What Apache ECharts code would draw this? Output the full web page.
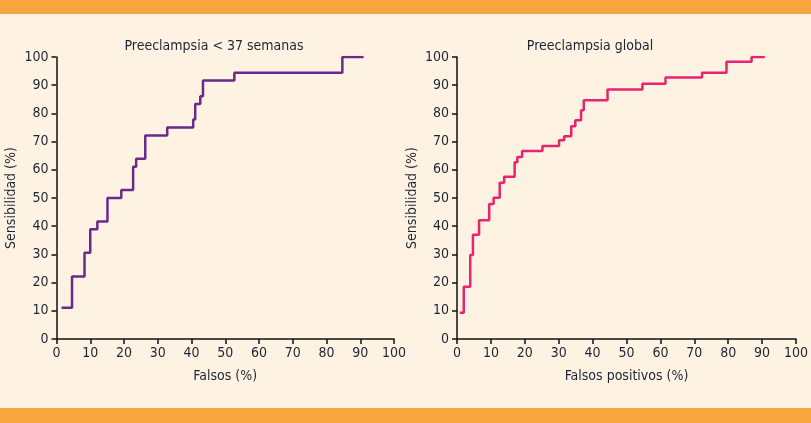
<!DOCTYPE html>
<html><head><meta charset="utf-8">
<script src="https://cdn.jsdelivr.net/npm/echarts@6/dist/echarts.min.js"></script>
<style>html,body{margin:0;padding:0;background:#FEF3E3}#c{width:811px;height:423px}</style>
</head><body><div id="c"></div>
<script>
const titleLeft = 'Preeclampsia < 37 semanas';
const titleRight = 'Preeclampsia global';
const yName = 'Sensibilidad (%)';
const xNameLeft = 'Falsos (%)';
const xNameRight = 'Falsos positivos (%)';
const fprLeft = [1.5, 4.6, 8.3, 10.0, 12.1, 15.1, 19.2, 22.7, 23.6, 26.3, 32.8, 40.5, 41.1, 42.6, 43.4, 52.7, 84.7, 91.0];
const tprLeft = [11.1, 22.2, 30.6, 38.9, 41.7, 50.0, 52.8, 61.1, 63.9, 72.2, 75.0, 77.8, 83.3, 86.1, 91.7, 94.4, 100, 100];
const fprRight = [0.8, 2.0, 3.9, 4.7, 6.5, 9.5, 10.8, 12.6, 13.9, 17.0, 17.8, 19.2, 25.2, 30.1, 31.6, 33.7, 34.9, 36.6, 37.4, 44.4, 54.7, 61.5, 72.3, 79.5, 86.9, 90.8];
const tprRight = [9.3, 18.5, 29.8, 37.0, 42.1, 47.9, 50.1, 55.4, 57.5, 62.7, 64.5, 66.7, 68.4, 70.5, 71.9, 75.4, 77.6, 81.1, 84.7, 88.5, 90.5, 92.7, 94.4, 98.3, 100, 100];

const FONT = "'Liberation Sans Narrow', 'DejaVu Sans Condensed', 'Noto Sans', sans-serif";
const TXT = '#1e2433';
const chart = echarts.init(document.getElementById('c'), null, {renderer: 'canvas'});
function xAx(idx, name) {
  return {
    type: 'value', gridIndex: idx, min: 0, max: 100, interval: 10,
    name: name, nameLocation: 'middle', nameGap: 30,
    nameTextStyle: {color: TXT, fontSize: 14, fontFamily: FONT},
    axisLine: {show: true, lineStyle: {color: '#111', width: 1.5}},
    axisTick: {show: true, inside: false, length: 5, lineStyle: {color: '#111', width: 1.5}},
    axisLabel: {color: TXT, fontSize: 14, fontFamily: FONT, margin: 7},
    splitLine: {show: false}
  };
}
function yAx(idx) {
  return {
    type: 'value', gridIndex: idx, min: 0, max: 100, interval: 10,
    name: yName, nameLocation: 'middle', nameGap: 38, nameRotate: 90,
    nameTextStyle: {color: TXT, fontSize: 14, fontFamily: FONT},
    axisLine: {show: true, lineStyle: {color: '#111', width: 1.5}},
    axisTick: {show: true, inside: false, length: 5, lineStyle: {color: '#111', width: 1.5}},
    axisLabel: {color: TXT, fontSize: 14, fontFamily: FONT, margin: 8},
    splitLine: {show: false}
  };
}
chart.setOption({
  backgroundColor: '#FEF3E3',
  animation: false,
  title: [
    {text: titleLeft, left: 209, top: 34, textAlign: 'center', textStyle: {color: TXT, fontSize: 14, fontWeight: 'normal', fontFamily: FONT}},
    {text: titleRight, left: 585, top: 34, textAlign: 'center', textStyle: {color: TXT, fontSize: 14, fontWeight: 'normal', fontFamily: FONT}}
  ],
  graphic: [
    {type: 'rect', left: 0, top: 0, shape: {width: 811, height: 14}, style: {fill: '#F9A53D'}},
    {type: 'rect', left: 0, top: 408, shape: {width: 811, height: 15}, style: {fill: '#F9A53D'}}
  ],
  grid: [
    {left: 56.5, right: 417, top: 57, bottom: 84},
    {left: 457, right: 12, top: 57, bottom: 84}
  ],
  xAxis: [xAx(0, xNameLeft), xAx(1, xNameRight)],
  yAxis: [yAx(0), yAx(1)],
  series: [
    {type: 'line', xAxisIndex: 0, yAxisIndex: 0, step: 'end', symbol: 'none',
     lineStyle: {color: '#6A2A8C', width: 2.5}, data: fprLeft.map((x, i) => [x, tprLeft[i]])},
    {type: 'line', xAxisIndex: 1, yAxisIndex: 1, step: 'end', symbol: 'none',
     lineStyle: {color: '#E8236F', width: 2.5}, data: fprRight.map((x, i) => [x, tprRight[i]])}
  ]
});
</script></body></html>
